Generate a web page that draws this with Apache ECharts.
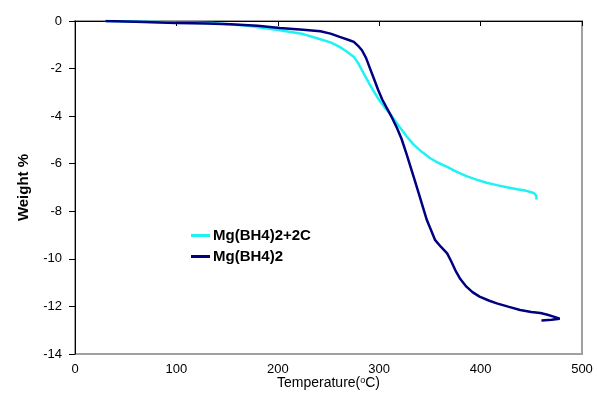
<!DOCTYPE html>
<html>
<head>
<meta charset="utf-8">
<script src="https://cdn.jsdelivr.net/npm/echarts@6/dist/echarts.min.js"></script>
<style>html,body{margin:0;padding:0;background:#fff;}#c{width:597px;height:409px;}</style>
</head>
<body>
<div id="c"></div>
<script>
var seriesNames = ['Mg(BH4)2+2C', 'Mg(BH4)2'];
var xTicks = [0, 100, 200, 300, 400, 500];
var yTicks = [0, -2, -4, -6, -8, -10, -12, -14];

var mgbh4_2C = [[30,0],[60,-0.02],[100,-0.06],[136,-0.08],[170,-0.2],[202,-0.39],[225,-0.55],[242,-0.77],[252,-0.9],[261,-1.09],[268,-1.28],[275,-1.51],[279,-1.75],[283,-2.07],[287,-2.38],[291,-2.7],[295,-2.98],[299,-3.26],[303,-3.5],[307,-3.72],[310,-3.87],[315,-4.15],[320,-4.45],[327,-4.85],[334,-5.2],[342,-5.5],[350,-5.76],[358,-5.96],[367,-6.13],[376,-6.33],[386,-6.52],[396,-6.67],[406,-6.8],[416,-6.9],[426,-6.99],[436,-7.07],[445,-7.14],[450,-7.2],[453,-7.25],[455,-7.35],[455,-7.5]];

var mgbh4 = [[30,0],[60,-0.03],[100,-0.08],[130,-0.11],[153,-0.14],[180,-0.2],[202,-0.29],[225,-0.37],[242,-0.43],[252,-0.53],[261,-0.67],[270,-0.8],[275,-0.88],[280,-1.08],[283,-1.23],[287,-1.55],[291,-2.0],[295,-2.45],[299,-2.9],[303,-3.3],[307,-3.62],[310,-3.85],[313,-4.1],[317,-4.45],[322,-4.95],[327,-5.6],[334,-6.55],[339,-7.25],[347,-8.37],[355,-9.2],[361,-9.5],[367,-9.77],[371,-10.1],[375,-10.47],[380,-10.85],[386,-11.17],[392,-11.4],[399,-11.59],[408,-11.75],[416,-11.87],[428,-12.02],[439,-12.15],[450,-12.23],[459,-12.28],[466,-12.35],[472,-12.43],[478,-12.52],[470,-12.56],[460,-12.59]];

var FONT = 'Arial, "Liberation Sans", sans-serif';
var chart = echarts.init(document.getElementById('c'));
chart.setOption({
  animation: false,
  backgroundColor: '#fff',
  grid: { left: 75, right: 15, top: 21, bottom: 55, show: true, borderColor: '#a0a0a0', borderWidth: 2, backgroundColor: 'transparent' },
  legend: {
    orient: 'vertical', left: 186, top: 223, itemWidth: 19, itemHeight: 3, itemGap: 6,
    icon: 'rect',
    textStyle: { fontFamily: FONT, fontSize: 15, fontWeight: 'bold', color: '#000', padding: [0,0,0,-2] },
    data: seriesNames
  },
  xAxis: {
    type: 'value', min: xTicks[0], max: xTicks[xTicks.length-1], interval: 100,
    name: '{a|Temperature(}{s|o}{a|C)}', nameLocation: 'middle', nameGap: 22, nameMoveOverlap: false,
    nameTextStyle: { rich: { a: { fontFamily: FONT, fontSize: 14, color: '#000' }, s: { fontFamily: FONT, fontSize: 9, color: '#000', verticalAlign: 'top', padding: [0,0,6,0] } } },
    axisLine: { lineStyle: { color: '#000', width: 1 } },
    axisTick: { show: true, length: 5, lineStyle: { color: '#000' } },
    axisLabel: { fontFamily: FONT, fontSize: 13, color: '#000', margin: 9 },
    splitLine: { show: false }
  },
  yAxis: {
    type: 'value', min: yTicks[yTicks.length-1], max: yTicks[0], interval: 2,
    name: 'Weight %', nameLocation: 'middle', nameGap: 44, nameMoveOverlap: false,
    nameTextStyle: { fontFamily: FONT, fontSize: 15, fontWeight: 'bold', color: '#000' },
    axisLine: { show: true, lineStyle: { color: '#000', width: 1 } },
    axisTick: { show: true, length: 6, lineStyle: { color: '#000' } },
    axisLabel: { fontFamily: FONT, fontSize: 13, color: '#000', margin: 13 },
    splitLine: { show: false }
  },
  series: [
    { name: seriesNames[0], type: 'line', data: mgbh4_2C, showSymbol: false, symbol: 'none',
      lineStyle: { color: '#1ff2f2', width: 2.5 }, itemStyle: { color: '#1ff2f2' }, z: 3 },
    { name: seriesNames[1], type: 'line', data: mgbh4, showSymbol: false, symbol: 'none',
      lineStyle: { color: '#000080', width: 2.5 }, itemStyle: { color: '#000080' }, z: 4 }
  ]
});
</script>
</body>
</html>
